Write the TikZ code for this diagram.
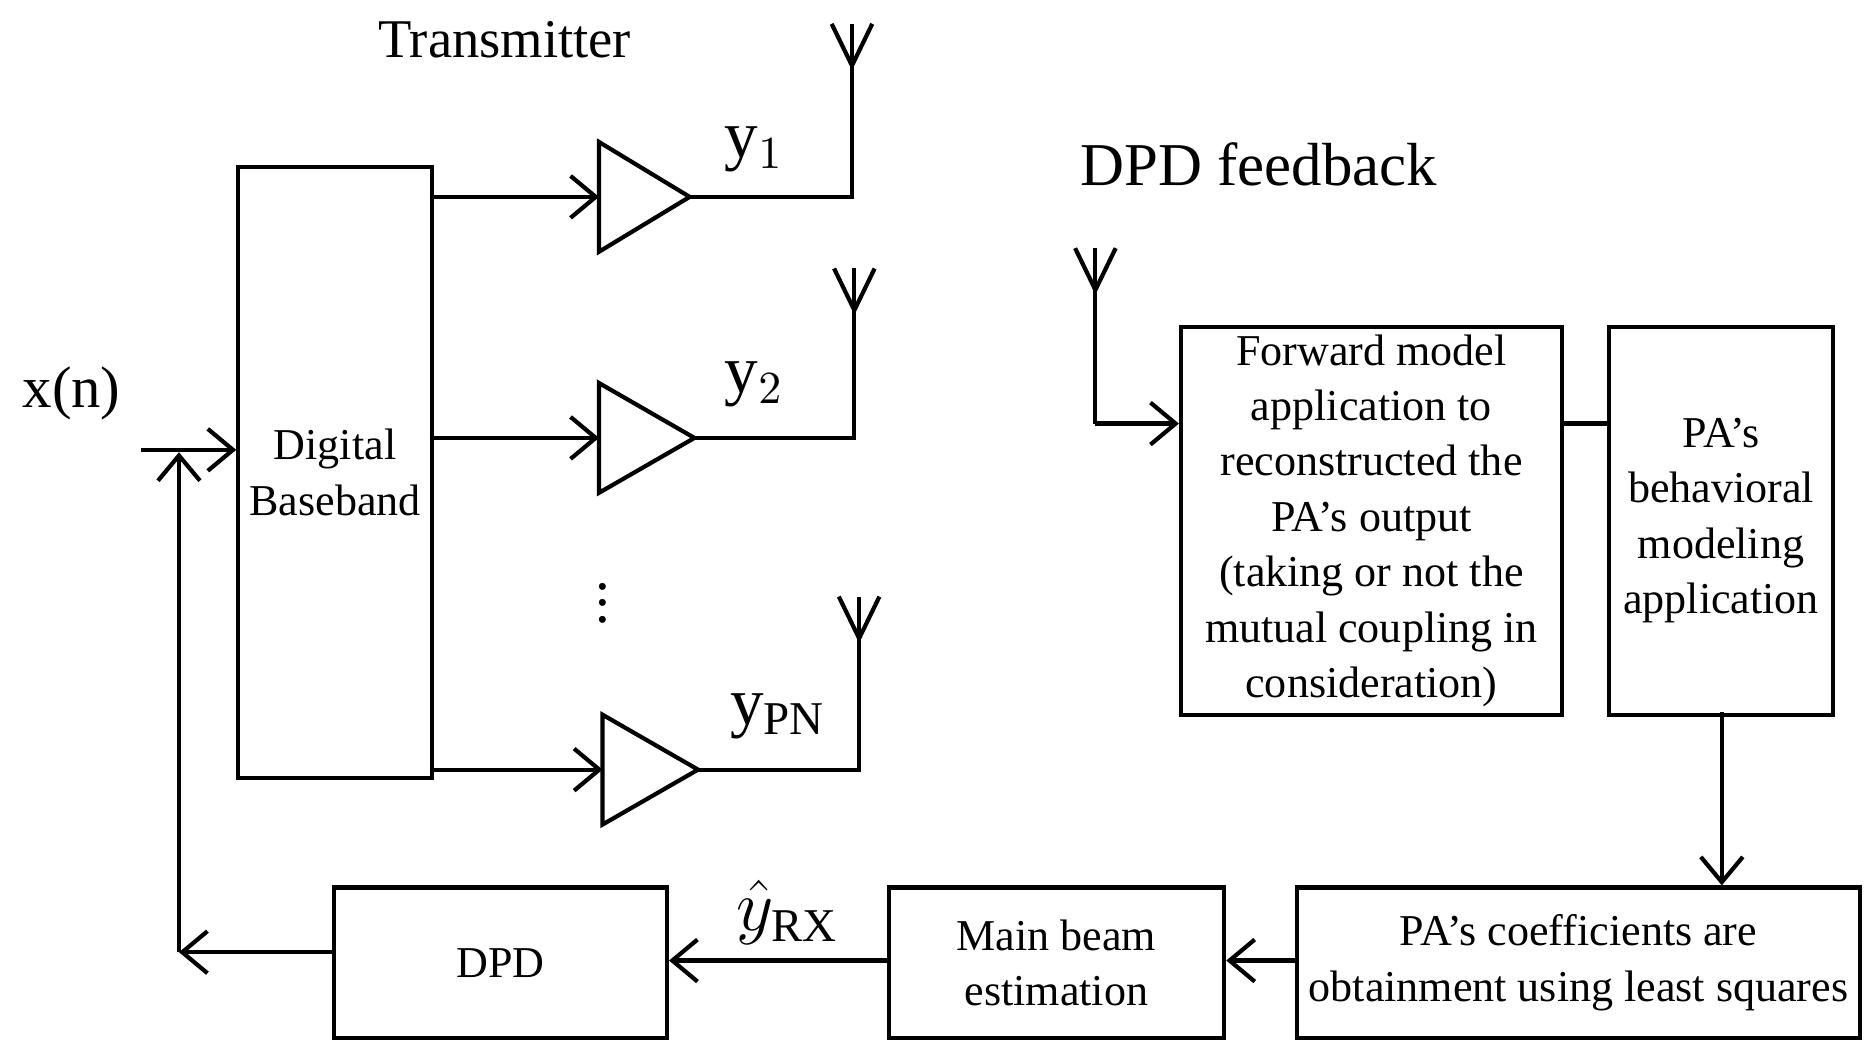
\documentclass[tikz,border=0pt]{standalone}
\usepackage{fontspec}
\setmainfont{Liberation Serif}
\usetikzlibrary{arrows.meta}
\begin{document}
\begin{tikzpicture}[x=0.01cm,y=-0.01cm,line width=1pt,
  box/.style={draw,align=center,inner sep=0pt,font=\fontsize{10.5}{13.2}\selectfont},
  arr/.style={-{Straight Barb[length=6pt,width=10pt]}}]
\useasboundingbox (0,0) rectangle (1568,882);
\node[box,minimum width=1.62cm,minimum height=5.12cm,anchor=north west] (bb) at (198,138) {Digital\\Baseband};
\node[font=\fontsize{14}{16}\selectfont] (xn) at (60,330) {x(n)};
\coordinate (in) at (118,377);
\coordinate (c1) at (150,798);
\draw[arr] (in) -- (198,377);
\node[box,minimum width=2.79cm,minimum height=1.26cm,anchor=north west] (dpd) at (278,742) {DPD};
\draw[arr] (dpd.west |- 0,798) -- (c1);
\draw[arr] (c1) -- (150,379);
\foreach \i/\yy/\lx/\tx/\ax/\at in {1/165/502/578/714/20, 2/367/502/582/716/225, 3/645/505/585/720/500}{
  \draw (\lx,\yy-46) -- (\tx,\yy) -- (\lx,\yy+46) -- cycle;
  \draw[arr] (360,\yy) -- (\lx,\yy);
  \draw (\tx,\yy) -- (\ax,\yy) -- (\ax,\at);
  \draw (\ax-17,\at) -- (\ax,\at+35) -- (\ax+17,\at);
}
\node[font=\fontsize{16}{18}\selectfont] (y1) at (632,125) {y$_1$};
\node[font=\fontsize{16}{18}\selectfont] (y2) at (632,322) {y$_2$};
\node[font=\fontsize{16}{18}\selectfont] (yp) at (652,600) {y$_{\mathrm{PN}}$};
\node[font=\fontsize{14}{16}\selectfont] (dots) at (505,495) {$\vdots$};
\node[font=\fontsize{13}{16}\selectfont] (tx) at (423,33) {Transmitter};
\node[font=\fontsize{14.5}{16}\selectfont] (fb) at (1055,138) {DPD feedback};
\node[box,minimum width=3.19cm,minimum height=3.25cm,anchor=north west] (fw) at (988,272) {Forward model\\application to\\reconstructed the\\PA's output\\(taking or not the\\mutual coupling in\\consideration)};
\node[box,minimum width=1.87cm,minimum height=3.25cm,anchor=north west] (pa) at (1347,272) {PA's\\behavioral\\modeling\\application};
\node[box,minimum width=4.72cm,minimum height=1.26cm,anchor=north west] (co) at (1085,742) {PA's coefficients are\\obtainment using least squares};
\node[box,minimum width=2.81cm,minimum height=1.26cm,anchor=north west] (mb) at (743,742) {Main beam\\estimation};
\coordinate (fa) at (918,355);
\draw (901,208) -- (918,243) -- (935,208);
\draw (918,208) -- (fa);
\draw[arr] (fa) -- (fw.west |- fa);
\draw (fw.east |- 0,355) -- (pa.west |- 0,355);
\draw[arr] (1443,597) -- (1443,742);
\draw[arr] (co.west |- 0,805) -- (mb.east |- 0,805);
\draw[arr] (mb.west |- 0,805) -- (dpd.east |- 0,805);
\node[font=\fontsize{16}{18}\selectfont] (yrx) at (660,765) {$\hat{y}_{\mathrm{RX}}$};
\end{tikzpicture}
\end{document}
